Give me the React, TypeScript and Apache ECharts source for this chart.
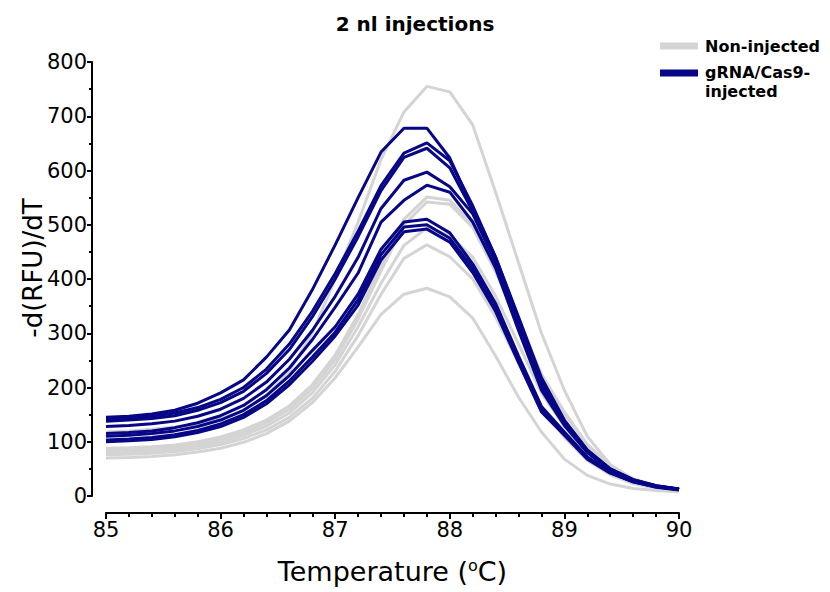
import React, { useEffect, useRef } from "react";
import * as echarts from "echarts";

const temps = [85.0, 85.2, 85.4, 85.6, 85.8, 86.0, 86.2, 86.4, 86.6, 86.8, 87.0, 87.2, 87.4, 87.6, 87.8, 88.0, 88.2, 88.4, 88.6, 88.8, 89.0, 89.2, 89.4, 89.6, 89.8, 90.0];

const nonInjected1 = [118, 120, 123, 127, 133, 142, 158, 185, 230, 300, 400, 505, 620, 708, 755, 745, 684, 560, 430, 300, 195, 110, 58, 30, 17, 11];
const nonInjected2 = [88, 89, 91, 94, 100, 109, 122, 140, 166, 205, 260, 335, 425, 510, 551, 545, 500, 418, 322, 225, 155, 95, 56, 32, 19, 12];
const nonInjected3 = [84, 85, 87, 90, 96, 105, 117, 135, 160, 198, 252, 326, 415, 500, 542, 538, 495, 413, 318, 222, 152, 93, 55, 31, 18, 12];
const nonInjected4 = [80, 81, 83, 86, 92, 100, 112, 129, 153, 190, 242, 312, 392, 462, 494, 480, 440, 368, 280, 190, 128, 78, 46, 27, 16, 10];
const nonInjected5 = [76, 77, 79, 82, 87, 95, 106, 122, 145, 180, 230, 296, 372, 438, 463, 441, 400, 330, 245, 165, 108, 66, 39, 23, 14, 9];
const nonInjected6 = [70, 71, 73, 76, 81, 88, 99, 115, 138, 172, 218, 275, 335, 372, 383, 367, 328, 258, 182, 118, 68, 38, 22, 14, 10, 8];

const injected1 = [145, 147, 151, 158, 171, 190, 214, 256, 306, 380, 463, 550, 634, 678, 678, 623, 530, 440, 330, 218, 140, 85, 50, 30, 19, 13];
const injected2 = [142, 144, 147, 153, 163, 178, 200, 234, 280, 340, 410, 488, 572, 632, 651, 618, 535, 440, 325, 210, 138, 84, 50, 30, 19, 13];
const injected3 = [138, 140, 143, 148, 158, 172, 193, 226, 270, 330, 400, 478, 563, 624, 641, 605, 525, 435, 320, 205, 135, 82, 49, 29, 18, 13];
const injected4 = [128, 130, 133, 138, 147, 160, 180, 210, 252, 305, 368, 440, 530, 582, 597, 570, 520, 430, 315, 200, 133, 81, 48, 29, 18, 12];
const injected5 = [115, 117, 120, 126, 135, 148, 167, 196, 236, 288, 348, 411, 505, 545, 573, 560, 505, 420, 305, 195, 130, 80, 47, 28, 18, 12];
const injected6 = [110, 112, 115, 120, 128, 140, 158, 185, 222, 268, 312, 372, 455, 505, 510, 485, 428, 355, 258, 165, 118, 72, 44, 27, 17, 12];
const injected7 = [103, 105, 108, 113, 121, 133, 150, 176, 212, 256, 302, 362, 445, 496, 500, 475, 420, 348, 252, 160, 115, 70, 43, 26, 17, 12];
const injected8 = [100, 102, 104, 109, 117, 128, 145, 170, 205, 248, 295, 352, 435, 487, 492, 468, 412, 340, 246, 155, 112, 68, 42, 26, 16, 11];

const nonInjectedSeries = [nonInjected1, nonInjected2, nonInjected3, nonInjected4, nonInjected5, nonInjected6];
const injectedSeries = [injected1, injected2, injected3, injected4, injected5, injected6, injected7, injected8];

const NAME_NON = "Non-injected";
const NAME_INJ = "gRNA/Cas9-\ninjected";
const GRAY = "#d4d4d4";
const NAVY = "#060686";
const FONT = "DejaVu Sans";

export default function App() {
  const ref = useRef<HTMLDivElement>(null);
  useEffect(() => {
    document.body.style.margin = "0";
    if (!ref.current) return;
    const chart = echarts.init(ref.current, null, { renderer: "svg" });
    const mk = (name: string, color: string, vals: number[]) => ({
      name,
      type: "line",
      data: temps.map((t, i) => [t, vals[i]]),
      showSymbol: false,
      symbol: "none",
      lineStyle: { width: 3, color },
      itemStyle: { color },
      emphasis: { disabled: true },
    });
    const series = [
      ...nonInjectedSeries.map((v) => mk(NAME_NON, GRAY, v)),
      ...injectedSeries.map((v) => mk(NAME_INJ, NAVY, v)),
    ];
    const legendFont = { fontSize: 16, fontWeight: "bold", fontFamily: FONT, fill: "#000" };
    chart.setOption({
      animation: false,
      backgroundColor: "#fff",
      title: {
        text: "2 nl injections",
        left: "center",
        top: 9,
        textStyle: { fontSize: 20, fontWeight: "bold", fontFamily: FONT, color: "#000" },
      },
      grid: { left: 106, right: 151, top: 62, bottom: 96, containLabel: false },
      xAxis: {
        type: "value",
        min: 85,
        max: 90,
        interval: 1,
        offset: 17,
        name: "Temperature ({sup|o}C)",
        nameLocation: "middle",
        nameGap: 44,
        nameTextStyle: {
          fontSize: 27,
          fontFamily: FONT,
          color: "#000",
          rich: { sup: { fontSize: 16, fontFamily: FONT, color: "#000", verticalAlign: "top", padding: [0, 0, 12, 0] } },
        },
        axisLine: { onZero: false, lineStyle: { color: "#000", width: 2 } },
        axisTick: { length: 6, lineStyle: { color: "#000", width: 2 } },
        minorTick: { show: true, splitNumber: 5, length: 4, lineStyle: { color: "#000", width: 2 } },
        axisLabel: { fontSize: 21, fontFamily: FONT, color: "#000", margin: 6 },
        splitLine: { show: false },
      },
      yAxis: {
        type: "value",
        min: 0,
        max: 800,
        interval: 100,
        offset: 14,
        axisLine: { show: true, onZero: false, lineStyle: { color: "#000", width: 2 } },
        axisTick: { show: true, length: 5, lineStyle: { color: "#000", width: 2 } },
        minorTick: { show: true, splitNumber: 2, length: 3, lineStyle: { color: "#000", width: 2 } },
        axisLabel: { fontSize: 21, fontFamily: FONT, color: "#000", margin: 5 },
        splitLine: { show: false },
      },
      graphic: [
        {
          type: "text",
          x: 33,
          y: 268,
          rotation: Math.PI / 2,
          style: {
            text: "-d(RFU)/dT",
            fontSize: 26,
            fontFamily: FONT,
            fill: "#000",
            align: "center",
            verticalAlign: "middle",
          },
        },
        { type: "rect", shape: { x: 660, y: 42.5, width: 38, height: 7 }, style: { fill: GRAY } },
        {
          type: "text",
          x: 705,
          y: 46,
          style: { ...legendFont, text: NAME_NON, align: "left", verticalAlign: "middle" },
        },
        { type: "rect", shape: { x: 660, y: 69.5, width: 38, height: 7 }, style: { fill: NAVY } },
        {
          type: "text",
          x: 705,
          y: 63,
          style: { ...legendFont, text: NAME_INJ, lineHeight: 19, align: "left", verticalAlign: "top" },
        },
      ],
      series,
    });
    return () => chart.dispose();
  }, []);
  return <div ref={ref} style={{ width: 830, height: 592 }} />;
}
